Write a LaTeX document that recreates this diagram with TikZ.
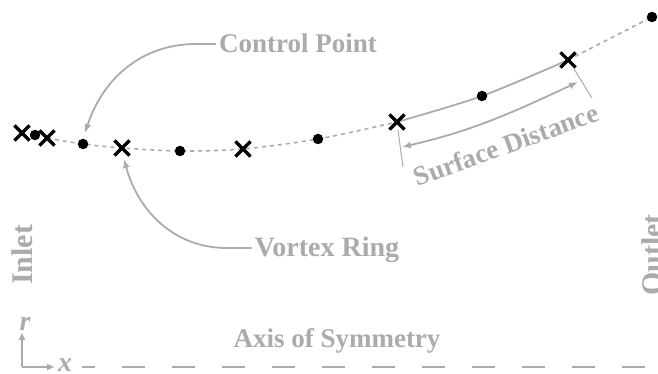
\documentclass[tikz,border=0pt]{standalone}
\usepackage{fontspec}
\setmainfont{Liberation Serif}
\usetikzlibrary{arrows.meta,shapes.misc}
\definecolor{lg}{HTML}{ABABAB}
\tikzset{
  xmark/.style={cross out,draw=black,line width=3.2pt,minimum size=12pt,inner sep=0pt},
  dotmark/.style={circle,fill=black,minimum size=10.5pt,inner sep=0pt},
  lbl/.style={text=lg,font=\bfseries\fontsize{27}{30}\selectfont,inner sep=0pt},
  curvedot/.style={draw=lg,line width=1.6pt,dash pattern=on 4pt off 4pt},
  curvesolid/.style={draw=lg,line width=1.8pt},
  callout/.style={draw=lg,line width=1.8pt,-{Latex[length=9pt,width=7pt]}},
  dim/.style={draw=lg,line width=1.8pt,{Latex[length=9pt,width=7pt]}-{Latex[length=9pt,width=7pt]}},
  ext/.style={draw=lg,line width=1pt},
  axisline/.style={draw=lg,line width=2pt,dash pattern=on 23pt off 27pt,dash phase=10pt}
}
\begin{document}
\begin{tikzpicture}[x=1pt,y=1pt]
\useasboundingbox (0,0) rectangle (658,374);
% curve points
\coordinate (p1) at (22,241);
\coordinate (p2) at (35,239);
\coordinate (p3) at (47,236);
\coordinate (p4) at (83,230);
\coordinate (p5) at (122,226);
\coordinate (p6) at (180,223);
\coordinate (p7) at (243,225);
\coordinate (p8) at (318,235);
\coordinate (p9) at (397,252);
\coordinate (p10) at (482,278);
\coordinate (p11) at (568,314);
\coordinate (p12) at (652,357);
% curve
\draw[curvedot] plot[smooth] coordinates {(p3) (p4) (p5) (p6) (p7) (p8) (p9)};
\draw[curvesolid] plot[smooth] coordinates {(p9) (p10) (p11)};
\draw[curvedot] plot[smooth] coordinates {(p11) (p12)};
% marks
\node[xmark] (x1) at (p1) {};
\node[dotmark] (d1) at (p2) {};
\node[xmark] (x2) at (p3) {};
\node[dotmark] (d2) at (p4) {};
\node[xmark] (x3) at (p5) {};
\node[dotmark] (d3) at (p6) {};
\node[xmark] (x4) at (p7) {};
\node[dotmark] (d4) at (p8) {};
\node[xmark] (x5) at (p9) {};
\node[dotmark] (d5) at (p10) {};
\node[xmark] (x6) at (p11) {};
\node[dotmark] (d6) at (p12) {};
% labels
\node[lbl,anchor=base] (cp) at (298,321) {Control Point};
\node[lbl,anchor=base,font=\bfseries\fontsize{28}{30}\selectfont] (vr) at (327,117) {Vortex Ring};
\node[lbl,anchor=base] (axs) at (337,26) {Axis of Symmetry};
\node[lbl,anchor=base,rotate=90,font=\bfseries\fontsize{30}{32}\selectfont] (inl) at (32,119) {Inlet};
\node[lbl,anchor=base,rotate=90,font=\bfseries\fontsize{30}{32}\selectfont] (outl) at (662,119) {Outlet};
\node[lbl,rotate=20] (sd) at (506,229) {Surface Distance};
% callouts
\coordinate (cpt) at (85,241);
\coordinate (vrt) at (124,215);
\draw[callout] ([xshift=-3pt,yshift=9pt]cp.base west) -- ++(-20,0) to[out=180,in=72] (cpt);
\draw[callout] ([xshift=-3pt,yshift=9pt]vr.base west) -- ++(-25,0) to[out=180,in=-75] (vrt);
% surface distance dimension
\coordinate (e1a) at (398,244);
\coordinate (e1b) at (403,207);
\coordinate (e2a) at (574,305);
\coordinate (e2b) at (592,276);
\draw[ext] (e1a) -- (e1b);
\draw[ext] (e2a) -- (e2b);
\coordinate (da) at (402,227);
\coordinate (db) at (578,292);
\draw[dim] (da) to[out=13,in=205] (db);
% axes
\coordinate (o) at (22,7);
\coordinate (rt) at (22,42);
\coordinate (xt) at (55,7);
\draw[draw=lg,line width=1.8pt,-{Latex[length=8pt,width=7pt]}] (o) -- (rt);
\draw[draw=lg,line width=1.8pt,-{Latex[length=8pt,width=7pt]}] (o) -- (xt);
\node[lbl,font=\bfseries\itshape\fontsize{28}{30}\selectfont] (rl) at (25,50) {r};
\node[lbl,font=\bfseries\itshape\fontsize{28}{30}\selectfont] (xl) at (65,9) {x};
\coordinate (as) at (82,7);
\coordinate (ae) at (658,7);
\draw[axisline] (as) -- (ae);
\end{tikzpicture}
\end{document}
